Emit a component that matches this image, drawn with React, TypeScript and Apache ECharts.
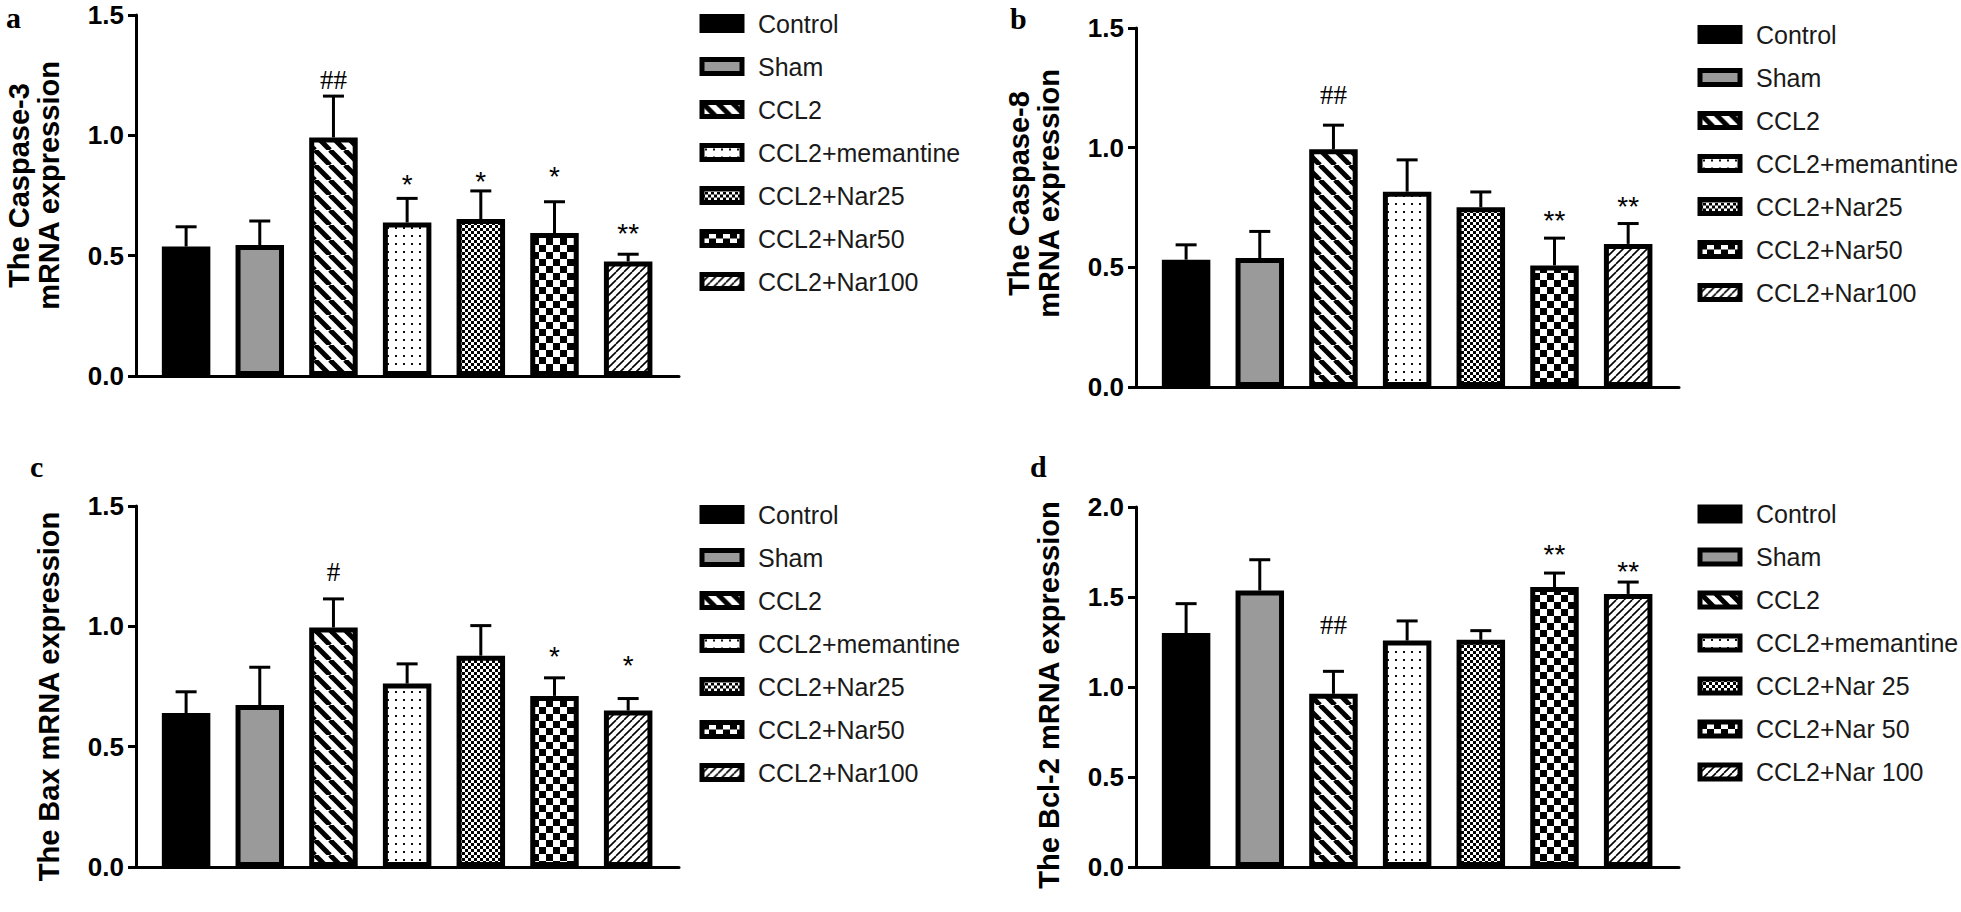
import React, { useEffect, useRef } from 'react';
import * as echarts from 'echarts';

// ---------- data ----------
const groupNames = ['Control', 'Sham', 'CCL2', 'CCL2+memantine', 'CCL2+Nar25', 'CCL2+Nar50', 'CCL2+Nar100'];
const groupNamesBcl2 = ['Control', 'Sham', 'CCL2', 'CCL2+memantine', 'CCL2+Nar 25', 'CCL2+Nar 50', 'CCL2+Nar 100'];

const caspase3Mean = [0.538, 0.544, 0.991, 0.638, 0.652, 0.594, 0.476];
const caspase3Sem = [0.082, 0.100, 0.172, 0.100, 0.117, 0.130, 0.030];
const caspase3Marks = ['', '', '##', '*', '*', '*', '**'];
const caspase3MarkY = [null, null, 1.23, 0.82, 0.832, 0.853, 0.615];

const caspase8Mean = [0.532, 0.539, 0.993, 0.816, 0.751, 0.508, 0.598];
const caspase8Sem = [0.062, 0.111, 0.101, 0.133, 0.064, 0.114, 0.085];
const caspase8Marks = ['', '', '##', '', '', '**', '**'];
const caspase8MarkY = [null, null, 1.22, null, null, 0.72, 0.78];

const baxMean = [0.640, 0.673, 0.995, 0.762, 0.878, 0.711, 0.650];
const baxSem = [0.088, 0.157, 0.119, 0.082, 0.125, 0.075, 0.050];
const baxMarks = ['', '', '#', '', '', '*', '*'];
const baxMarkY = [null, null, 1.225, null, null, 0.899, 0.861];

const bcl2Mean = [1.300, 1.536, 0.962, 1.258, 1.262, 1.555, 1.517];
const bcl2Sem = [0.163, 0.171, 0.125, 0.109, 0.051, 0.078, 0.066];
const bcl2Marks = ['', '', '##', '', '', '**', '**'];
const bcl2MarkY = [null, null, 1.343, null, null, 1.768, 1.676];

const yMaxCaspase3 = 1.5;
const yMaxCaspase8 = 1.5;
const yMaxBax = 1.5;
const yMaxBcl2 = 2.0;
const yInterval = 0.5;

// ---------- patterns ----------
function tile(w: number, h: number, draw: (ctx: CanvasRenderingContext2D) => void) {
  const c = document.createElement('canvas');
  c.width = w;
  c.height = h;
  const ctx = c.getContext('2d')!;
  ctx.fillStyle = '#fff';
  ctx.fillRect(0, 0, w, h);
  draw(ctx);
  return c;
}

function makeFills(): any[] {
  const backStripe = tile(15, 15, (ctx) => {
    ctx.strokeStyle = '#000';
    ctx.lineWidth = 5;
    for (let k = -1; k <= 1; k++) {
      ctx.beginPath();
      ctx.moveTo(k * 15, 0);
      ctx.lineTo(k * 15 + 15, 15);
      ctx.stroke();
    }
  });
  const dots = tile(8, 8, (ctx) => {
    ctx.fillStyle = '#111';
    ctx.fillRect(3, 3, 2, 2);
  });
  const fineChecker = tile(6, 6, (ctx) => {
    ctx.fillStyle = '#000';
    ctx.fillRect(0, 0, 3, 3);
    ctx.fillRect(3, 3, 3, 3);
  });
  const bigChecker = tile(14, 14, (ctx) => {
    ctx.fillStyle = '#000';
    ctx.fillRect(0, 0, 7, 7);
    ctx.fillRect(7, 7, 7, 7);
  });
  const fwdStripe = tile(8, 8, (ctx) => {
    ctx.strokeStyle = '#000';
    ctx.lineWidth = 1.6;
    for (let k = -1; k <= 1; k++) {
      ctx.beginPath();
      ctx.moveTo(k * 8, 8);
      ctx.lineTo(k * 8 + 8, 0);
      ctx.stroke();
    }
  });
  const pat = (c: HTMLCanvasElement) => ({ image: c, repeat: 'repeat' });
  return ['#000000', '#9a9a9a', pat(backStripe), pat(dots), pat(fineChecker), pat(bigChecker), pat(fwdStripe)];
}

// ---------- layout ----------
const panels = [
  {
    letter: 'a', letterPos: [6, 17], title: 'The Caspase-3\nmRNA expression', names: groupNames,
    mean: caspase3Mean, sem: caspase3Sem, marks: caspase3Marks, markY: caspase3MarkY, yMax: yMaxCaspase3,
    grid: { left: 136, top: 15, width: 543, height: 361 }, legend: { left: 699.5, top: 11 }, namePad: [0, 0, 0, 20],
  },
  {
    letter: 'b', letterPos: [1010, 18], title: 'The Caspase-8\nmRNA expression', names: groupNames,
    mean: caspase8Mean, sem: caspase8Sem, marks: caspase8Marks, markY: caspase8MarkY, yMax: yMaxCaspase8,
    grid: { left: 1136, top: 28, width: 543, height: 359 }, legend: { left: 1697.5, top: 22 }, namePad: [0, 0, 0, 28],
  },
  {
    letter: 'c', letterPos: [30, 466], title: 'The Bax mRNA expression', names: groupNames,
    mean: baxMean, sem: baxSem, marks: baxMarks, markY: baxMarkY, yMax: yMaxBax,
    grid: { left: 136, top: 506, width: 543, height: 361 }, legend: { left: 699.5, top: 502 }, namePad: [0, 20, 0, 0],
  },
  {
    letter: 'd', letterPos: [1030, 466], title: 'The Bcl-2 mRNA expression', names: groupNamesBcl2,
    mean: bcl2Mean, sem: bcl2Sem, marks: bcl2Marks, markY: bcl2MarkY, yMax: yMaxBcl2,
    grid: { left: 1136, top: 507, width: 543, height: 360 }, legend: { left: 1697.5, top: 501.5 }, namePad: [0, 16, 0, 0],
  },
];

const SANS = 'Liberation Sans, Arial, sans-serif';
const SERIF = 'Liberation Serif, Times New Roman, serif';

function buildOption() {
  const fills = makeFills();
  const grid: any[] = [];
  const xAxis: any[] = [];
  const yAxis: any[] = [];
  const legend: any[] = [];
  const series: any[] = [];
  const graphic: any[] = [];

  panels.forEach((p, pi) => {
    grid.push({ ...p.grid, containLabel: false });
    xAxis.push({
      type: 'value', gridIndex: pi, min: -0.68, max: 6.69, position: 'bottom',
      axisLine: { show: true, onZero: false, lineStyle: { color: '#000', width: 3 } },
      axisTick: { show: false }, axisLabel: { show: false }, splitLine: { show: false },
    });
    yAxis.push({
      type: 'value', gridIndex: pi, min: 0, max: p.yMax, interval: yInterval, position: 'left',
      axisLine: { show: true, onZero: false, lineStyle: { color: '#000', width: 3 } },
      axisTick: { show: true, length: 8, lineStyle: { color: '#000', width: 3 } },
      axisLabel: {
        margin: 12, fontSize: 26, fontWeight: 'bold', color: '#000', fontFamily: SANS,
        formatter: (v: number) => v.toFixed(1),
      },
      splitLine: { show: false },
      name: p.title, nameLocation: 'middle', nameRotate: 90, nameGap: 72.5,
      nameTextStyle: { fontSize: 29, fontWeight: 'bold', color: '#000', fontFamily: SANS, lineHeight: 30, padding: p.namePad },
    });
    legend.push({
      data: p.names, orient: 'vertical', left: p.legend.left, top: p.legend.top,
      itemWidth: 40, itemHeight: 14, itemGap: 18, padding: 0, selectedMode: false, icon: 'rect',
      itemStyle: { borderColor: '#000', borderWidth: 5 },
      textStyle: { fontSize: 25, color: '#1a1a1a', fontFamily: SANS, lineHeight: 25, padding: [0, 0, 0, 11] },
    });

    p.names.forEach((name, g) => {
      series.push({
        type: 'bar', name, xAxisIndex: pi, yAxisIndex: pi,
        data: [[g, p.mean[g]]], barWidth: 48.5, barGap: '-100%',
        itemStyle: { color: fills[g], borderColor: '#000', borderWidth: 5 },
        z: 3, silent: true, emphasis: { disabled: true }, clip: false,
      });
    });

    const errData = p.mean.map((m, i) => [i, m, m + p.sem[i]]);
    series.push({
      type: 'custom', xAxisIndex: pi, yAxisIndex: pi, data: errData, z: 2, silent: true,
      renderItem: (params: any, api: any) => {
        const x = api.value(0);
        const base = api.coord([x, api.value(1)]);
        const top = api.coord([x, api.value(2)]);
        return {
          type: 'group',
          children: [
            { type: 'line', shape: { x1: base[0], y1: base[1], x2: top[0], y2: top[1] }, style: { stroke: '#000', lineWidth: 3 } },
            { type: 'line', shape: { x1: top[0] - 10.5, y1: top[1], x2: top[0] + 10.5, y2: top[1] }, style: { stroke: '#000', lineWidth: 3 } },
          ],
        };
      },
    });

    const markItems = p.marks
      .map((t, i) => ({ t, i, y: p.markY[i] }))
      .filter((d) => d.t);
    series.push({
      type: 'custom', xAxisIndex: pi, yAxisIndex: pi, z: 4, silent: true,
      data: markItems.map((d) => [d.i, d.y]),
      renderItem: (params: any, api: any) => {
        const item = markItems[params.dataIndex];
        const pt = api.coord([api.value(0), api.value(1)]);
        const star = item.t.indexOf('*') >= 0;
        return {
          type: 'text', x: pt[0], y: pt[1] + (star ? 6 : 0),
          style: {
            text: item.t, fill: '#000', align: 'center', verticalAlign: 'middle',
            fontSize: star ? 28 : 27, fontFamily: star ? SANS : SERIF,
          },
        };
      },
    });

    graphic.push({
      type: 'text', x: p.letterPos[0], y: p.letterPos[1], silent: true,
      style: {
        text: p.letter, fill: '#000', fontSize: 30, lineHeight: 22, fontWeight: 'bold', fontFamily: SERIF,
        align: 'left', verticalAlign: 'middle',
      },
    });
  });

  return {
    animation: false,
    backgroundColor: '#fff',
    textStyle: { fontFamily: SANS },
    grid, xAxis, yAxis, legend, series, graphic,
  };
}

export default function App() {
  const ref = useRef<HTMLDivElement>(null);
  useEffect(() => {
    const chart = echarts.init(ref.current!, null, { renderer: 'svg' });
    chart.setOption(buildOption() as any);
    return () => chart.dispose();
  }, []);
  return (
    <div
      ref={ref}
      style={{ position: 'absolute', left: 0, top: 0, width: 1961, height: 912, background: '#fff' }}
    />
  );
}
